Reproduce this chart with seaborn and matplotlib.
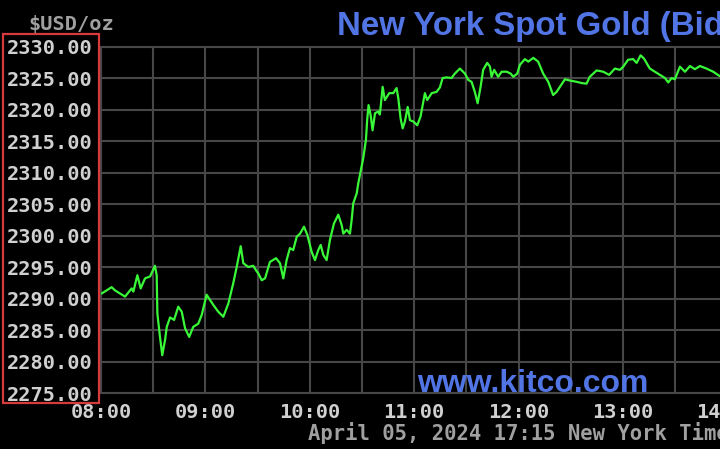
"""
Kitco style intraday chart: New York spot gold bid, 5 April 2024.

Black background, green price line, monospace axis labels. The chart is
cropped on the right like the original screenshot, so the axes run off the
edge of the figure on purpose.
"""

import matplotlib

matplotlib.use("Agg")

import matplotlib.dates as mdates
import matplotlib.pyplot as plt
import pandas as pd
import seaborn as sns
from matplotlib.patches import Rectangle
from matplotlib.ticker import FuncFormatter

# minutes after 08:00 New York time, and the bid price (USD/oz)
minutes = [
    0.4, 6.1, 8.0, 13.8, 17.6, 18.6, 20.9, 22.8, 25.3, 28.2,
    31.0, 32.0, 32.4, 33.9, 35.2, 36.8, 37.8, 39.7, 42.0, 44.4,
    46.4, 48.3, 50.7, 53.0, 55.9, 57.9, 60.7, 64.5, 67.4, 70.3,
    73.2, 76.0, 78.0, 80.3, 81.8, 84.7, 87.5, 89.5, 90.4, 92.4,
    94.3, 97.1, 100.6, 102.9, 104.8, 106.7, 108.6, 110.5, 112.5, 114.4,
    116.7, 118.6, 121.1, 123.0, 124.9, 126.3, 127.8, 129.7, 131.6, 133.9,
    136.4, 138.3, 139.3, 141.2, 143.1, 144.1, 145.0, 147.0, 147.9, 149.8,
    150.7, 152.3, 153.0, 153.8, 155.0, 156.1, 157.5, 159.4, 160.3, 161.9,
    163.2, 165.7, 168.0, 169.9, 170.9, 172.2, 173.4, 174.7, 176.3, 177.6,
    179.5, 181.8, 183.7, 186.2, 187.5, 190.1, 192.9, 194.8, 196.4, 198.7,
    201.5, 203.4, 206.3, 209.2, 211.1, 213.0, 214.9, 216.5, 218.2, 219.7,
    222.0, 223.6, 224.5, 226.0, 228.3, 230.3, 233.2, 235.5, 237.0, 239.3,
    240.8, 243.7, 245.6, 248.5, 251.3, 254.2, 257.1, 259.9, 261.9, 266.7,
    269.5, 273.4, 276.3, 279.1, 281.0, 284.9, 288.7, 292.1, 295.4, 298.3,
    300.2, 303.0, 305.9, 307.9, 310.2, 312.1, 315.5, 318.4, 321.3, 324.2,
    326.1, 328.0, 329.9, 332.8, 335.7, 338.6, 341.4, 344.3, 348.1, 351.9,
    355.7,
]
price = [
    2290.8, 2291.8, 2291.3, 2290.3, 2291.6, 2291.1, 2293.7, 2291.6, 2293.2, 2293.5,
    2295.2, 2293.7, 2287.6, 2283.9, 2281.0, 2283.4, 2285.5, 2287.0, 2286.6, 2288.7,
    2287.9, 2285.3, 2283.9, 2285.5, 2286.0, 2287.4, 2290.6, 2289.0, 2287.9, 2287.1,
    2289.2, 2292.4, 2295.0, 2298.3, 2295.6, 2295.0, 2295.2, 2294.3, 2294.0, 2292.9,
    2293.2, 2295.8, 2296.4, 2295.6, 2293.2, 2296.1, 2298.0, 2297.7, 2299.8, 2300.3,
    2301.4, 2300.1, 2297.4, 2296.1, 2297.7, 2298.5, 2296.9, 2296.1, 2299.3, 2301.9,
    2303.3, 2301.7, 2300.3, 2300.9, 2300.3, 2302.5, 2305.1, 2306.7, 2308.3, 2310.9,
    2312.2, 2315.2, 2318.3, 2320.7, 2319.1, 2316.7, 2319.4, 2319.7, 2319.2, 2323.6,
    2321.5, 2322.6, 2322.6, 2323.4, 2321.8, 2318.6, 2317.0, 2318.1, 2320.4, 2318.3,
    2318.1, 2317.5, 2318.9, 2322.6, 2321.5, 2322.6, 2322.8, 2323.5, 2325.0, 2325.1,
    2325.0, 2325.7, 2326.5, 2325.7, 2324.7, 2324.4, 2322.8, 2321.0, 2323.6, 2326.3,
    2327.4, 2326.8, 2325.2, 2326.3, 2325.2, 2326.0, 2326.0, 2325.7, 2325.2, 2325.7,
    2327.1, 2328.0, 2327.6, 2328.2, 2327.6, 2325.7, 2324.4, 2322.3, 2322.8, 2324.8,
    2324.6, 2324.4, 2324.2, 2324.1, 2325.2, 2326.2, 2326.0, 2325.5, 2326.5, 2326.3,
    2326.8, 2327.9, 2328.0, 2327.4, 2328.6, 2328.1, 2326.5, 2326.0, 2325.5, 2325.0,
    2324.3, 2325.0, 2324.8, 2326.8, 2326.0, 2326.9, 2326.4, 2326.9, 2326.5, 2326.0,
    2325.3,
]

y_ticks = [2275, 2280, 2285, 2290, 2295, 2300, 2305, 2310, 2315, 2320, 2325, 2330]

TITLE = "New York Spot Gold (Bid)"
UNITS = "$USD/oz"
WATERMARK = "www.kitco.com"
STAMP = "April 05, 2024 17:15 New York Time"

SESSION_START = pd.Timestamp("2024-04-05 08:00")

GREEN = "#38f838"
BLUE = "#5275e6"
GRID = "#474747"
LABEL = "#d0d0d0"
DIM = "#a0a0a0"
MONO = "DejaVu Sans Mono"
SANS = "Liberation Sans"

df = pd.DataFrame({
    "time": SESSION_START + pd.to_timedelta(minutes, unit="min"),
    "price": price,
})

sns.set_theme(style="dark", rc={
    "axes.facecolor": "black",
    "figure.facecolor": "black",
    "savefig.facecolor": "black",
})

fig = plt.figure(figsize=(7.2, 4.49), dpi=100)
# right edge is past 1.0: the original screenshot is cut off at 13:55 or so
ax = fig.add_axes([0.1403, 0.1247, 0.906, 0.7717])

sns.lineplot(data=df, x="time", y="price", color=GREEN, lw=1.6, ax=ax, zorder=3)

ax.set_xlim(SESSION_START, SESSION_START + pd.Timedelta(minutes=375))
ax.set_ylim(y_ticks[0], y_ticks[-1])
ax.set_yticks(y_ticks)
ax.yaxis.set_major_formatter(FuncFormatter(lambda v, _: f"{v:.2f}"))
ax.xaxis.set_major_locator(mdates.HourLocator())
ax.xaxis.set_minor_locator(mdates.MinuteLocator(byminute=[30]))
ax.xaxis.set_major_formatter(mdates.DateFormatter("%H:%M"))

ax.grid(which="both", color=GRID, lw=1.5)
ax.tick_params(axis="both", which="both", length=0, colors=LABEL, labelsize=14.6)
ax.tick_params(axis="x", pad=7)
ax.tick_params(axis="y", pad=6)
for lbl in ax.get_xticklabels() + ax.get_yticklabels():
    lbl.set_family(MONO)
    lbl.set_weight("bold")
for spine in ax.spines.values():
    spine.set_color(GRID)
    spine.set_linewidth(1.5)
ax.set_xlabel("")
ax.set_ylabel("")

fig.text(337 / 720, 1 - 35 / 449, TITLE, color=BLUE, family=SANS,
         weight="bold", fontsize=23.8, ha="left", va="baseline")
fig.text(28 / 720, 1 - 30 / 449, UNITS, color=DIM, family=MONO,
         weight="bold", fontsize=14.6, ha="left", va="baseline")
fig.text(417 / 720, 1 - 392 / 449, WATERMARK, color=BLUE, family=SANS,
         weight="bold", fontsize=23, ha="left", va="baseline", zorder=4)
fig.text(308 / 720, 1 - 440 / 449, STAMP, color=DIM, family=MONO,
         weight="bold", fontsize=14.8, ha="left", va="baseline")

# red frame around the price labels
fig.add_artist(Rectangle((3 / 720, 1 - 403 / 449), 96 / 720, 369 / 449,
                         transform=fig.transFigure, fill=False,
                         edgecolor="#d63a3a", lw=1.6))

fig.savefig("out.png", dpi=100)
plt.close(fig)
